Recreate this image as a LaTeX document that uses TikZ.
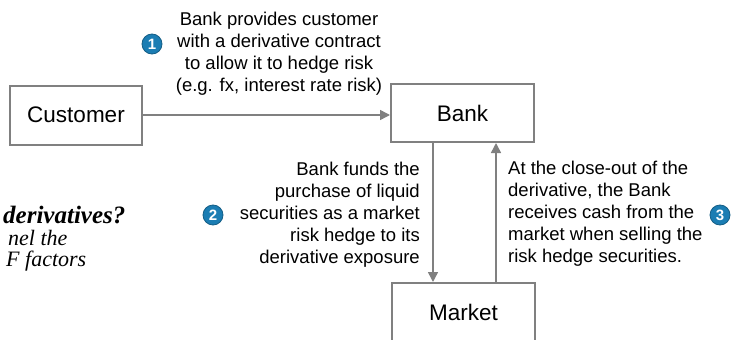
\documentclass[tikz,border=0pt]{standalone}
\usepackage{fontspec}
\setmainfont{Liberation Sans}
\newfontfamily\serifit{Liberation Serif}
\usetikzlibrary{arrows.meta}
\definecolor{boxgray}{HTML}{808080}
\definecolor{numblue}{HTML}{1B7DB3}
\tikzset{
  box/.style={draw=boxgray,line width=2pt,minimum width=132pt,minimum height=59pt,font=\fontsize{22.5}{26}\selectfont},
  flow/.style={draw=boxgray,line width=1.5pt,-{Triangle[length=10pt,width=10pt]}},
  note/.style={inner sep=0pt,font=\fontsize{18.5}{22}\selectfont},
  num/.style={circle,fill=numblue,draw=numblue!75!black,line width=0.8pt,inner sep=0pt,minimum size=20pt,text=white,font=\bfseries\fontsize{15}{15}\selectfont},
  side/.style={anchor=west,inner sep=0pt,font=\serifit\itshape\fontsize{22}{22}\selectfont}
}
\begin{document}
\begin{tikzpicture}[x=1pt,y=-1pt]
\useasboundingbox (0,0) rectangle (737,340);
\node[box] (cust) at (76,115) {Customer};
\node[box,minimum width=143pt,minimum height=58pt] (bank) at (462.5,113) {Bank};
\node[box,minimum width=143pt,minimum height=58pt] (market) at (463.5,312) {Market};
\draw[flow] (cust.east) -- (cust.east -| bank.west);
\coordinate (dtop) at ([xshift=-29.5pt]bank.south);
\coordinate (utop) at ([xshift=33.5pt]bank.south);
\draw[flow] (dtop) -- (dtop |- market.north);
\draw[flow] (utop |- market.north) -- (utop);
\node[note,align=center] (t1) at (279,54) {Bank provides customer\\with a derivative contract\\to allow it to hedge risk\\(e.g. fx, interest rate risk)};
\node[num] (n1) at (152,44) {1};
\node[note,align=right,anchor=east] (t2) at (420,214.5) {Bank funds the\\purchase of liquid\\securities as a market\\risk hedge to its\\derivative exposure};
\node[num] (n2) at (213,215) {2};
\node[note,align=left,anchor=west] (t3) at (508,213.5) {At the close-out of the\\derivative, the Bank\\receives cash from the\\market when selling the\\risk hedge securities.};
\node[num] (n3) at (720,215) {3};
\node[side,font=\serifit\bfseries\itshape\fontsize{25}{25}\selectfont] (q) at (3,215) {derivatives?};
\node[side] (s1) at (8,238) {nel the};
\node[side] (s2) at (6,261) {F factors};
\end{tikzpicture}
\end{document}
